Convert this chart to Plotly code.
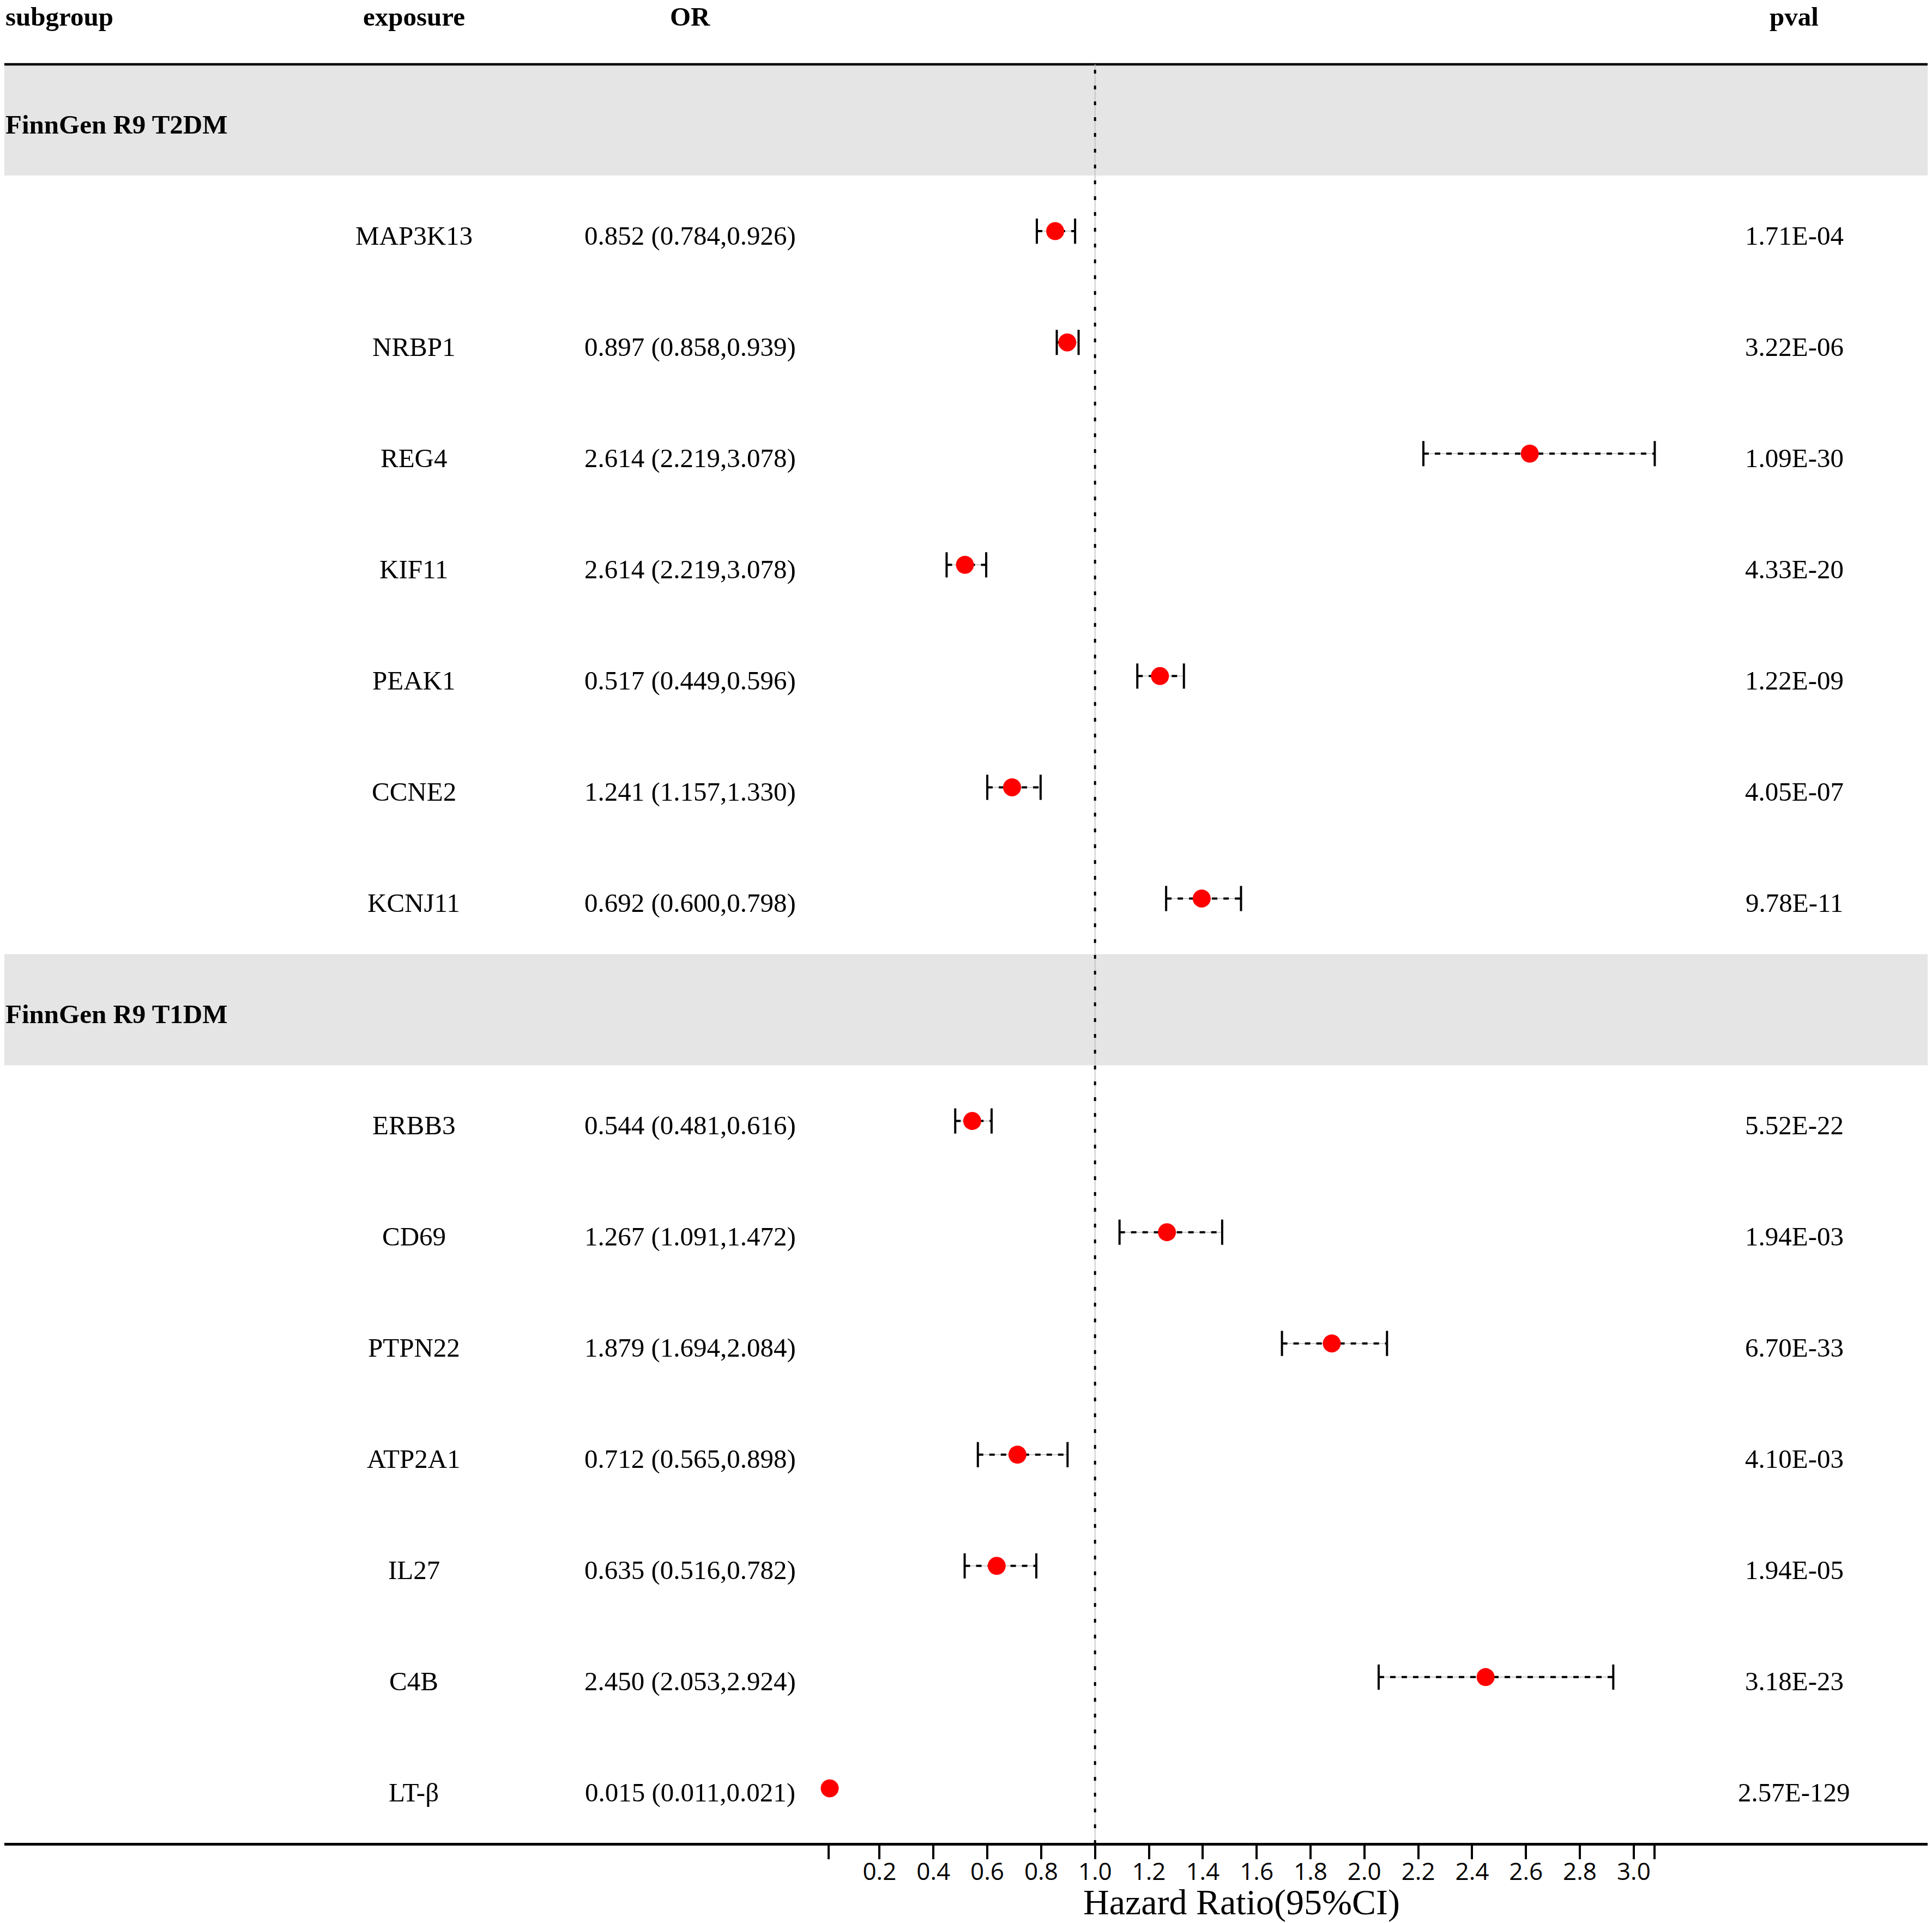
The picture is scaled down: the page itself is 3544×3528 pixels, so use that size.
import plotly.graph_objects as go

# --- data ---
groups = ["FinnGen R9 T2DM", "FinnGen R9 T1DM"]
group_of = ["FinnGen R9 T2DM"] * 7 + ["FinnGen R9 T1DM"] * 7
exposure = ["MAP3K13", "NRBP1", "REG4", "KIF11", "PEAK1", "CCNE2", "KCNJ11",
            "ERBB3", "CD69", "PTPN22", "ATP2A1", "IL27", "C4B", "LT-β"]
or_label = ["0.852 (0.784,0.926)", "0.897 (0.858,0.939)", "2.614 (2.219,3.078)",
            "2.614 (2.219,3.078)", "0.517 (0.449,0.596)", "1.241 (1.157,1.330)",
            "0.692 (0.600,0.798)", "0.544 (0.481,0.616)", "1.267 (1.091,1.472)",
            "1.879 (1.694,2.084)", "0.712 (0.565,0.898)", "0.635 (0.516,0.782)",
            "2.450 (2.053,2.924)", "0.015 (0.011,0.021)"]
pval_label = ["1.71E-04", "3.22E-06", "1.09E-30", "4.33E-20", "1.22E-09", "4.05E-07",
              "9.78E-11", "5.52E-22", "1.94E-03", "6.70E-33", "4.10E-03", "1.94E-05",
              "3.18E-23", "2.57E-129"]
# plotted estimates (as drawn in the picture)
est = [0.852, 0.897, 2.614, 0.517, 1.241, 0.692, 1.396,
       0.544, 1.267, 1.879, 0.712, 0.635, 2.450, 0.015]
lo = [0.784, 0.858, 2.219, 0.449, 1.157, 0.600, 1.264,
      0.481, 1.091, 1.694, 0.565, 0.516, 2.053, 0.011]
hi = [0.926, 0.939, 3.078, 0.596, 1.330, 0.798, 1.542,
      0.616, 1.472, 2.084, 0.898, 0.782, 2.924, 0.021]
tick_vals = [0.2, 0.4, 0.6, 0.8, 1.0, 1.2, 1.4, 1.6, 1.8, 2.0, 2.2, 2.4, 2.6, 2.8, 3.0]
headers = ["subgroup", "exposure", "OR", "pval"]
ref_value = 1.0

# --- geometry, in pixels of the 3544 x 3528 page ---
W, H = 3544, 3528
OFF = 8                      # default body margin of the html page
FW, FH = W - OFF, H - OFF    # figure size so it ends at the window edge
ROW_H = 204.06
TOP_LINE = 118
BOT_LINE = TOP_LINE + 16 * ROW_H
X_AT_02, PX_PER_UNIT = 1613.4, 494.1
x_range = [0.2 - (X_AT_02 - OFF) / PX_PER_UNIT, 0.2 + (W - X_AT_02) / PX_PER_UNIT]
n_rows = len(groups) + len(exposure)
y_range = [-(H - BOT_LINE) / ROW_H, n_rows + (TOP_LINE - OFF) / ROW_H]


def px(x):
    return (x - OFF) / FW


SERIF = "Liberation Serif"
FS = 49
MARK = 33
col_exp, col_or, col_p = px(759), px(1266), px(3291)

# build row list: group header rows followed by their items
rows = []
for g in groups:
    rows.append(("group", g, None))
    for idx, gg in enumerate(group_of):
        if gg == g:
            rows.append(("item", g, idx))

fig = go.Figure()
annotations = []
shapes = []

item_y = [None] * len(exposure)
for r, (kind, g, idx) in enumerate(rows):
    yc = n_rows - r - 0.5
    if kind == "group":
        shapes.append(dict(type="rect", xref="paper", yref="y", x0=0, x1=1,
                           y0=yc - 0.5, y1=yc + 0.5, fillcolor="#E5E5E5",
                           line=dict(width=0), layer="below"))
        annotations.append(dict(x=0, y=yc, xref="paper", yref="y", text=f"<b>{g}</b>",
                                xanchor="left", yanchor="middle", yshift=-8, showarrow=False,
                                font=dict(family=SERIF, size=FS, color="black")))
    else:
        item_y[idx] = yc
        for xc, txt in [(col_exp, exposure[idx]), (col_or, or_label[idx]), (col_p, pval_label[idx])]:
            annotations.append(dict(x=xc, y=yc, xref="paper", yref="y", text=txt,
                                    xanchor="center", yanchor="middle", yshift=-8, showarrow=False,
                                    font=dict(family=SERIF, size=FS, color="black")))

# column headers
head_y = n_rows + (TOP_LINE - 30) / ROW_H
for xc, txt, anc in [(0, headers[0], "left"), (col_exp, headers[1], "center"),
                     (col_or, headers[2], "center"), (col_p, headers[3], "center")]:
    annotations.append(dict(x=xc, y=head_y, xref="paper", yref="y", text=f"<b>{txt}</b>",
                            xanchor=anc, yanchor="middle", showarrow=False,
                            font=dict(family=SERIF, size=FS, color="black")))

# top rule
shapes.append(dict(type="line", xref="paper", yref="y", x0=0, x1=1, y0=n_rows, y1=n_rows,
                   line=dict(color="black", width=4.5)))
# reference line at 1
shapes.append(dict(type="line", xref="x", yref="y", x0=ref_value, x1=ref_value, y0=0, y1=n_rows,
                   line=dict(color="#BDBDBD", width=1.5)))
shapes.append(dict(type="line", xref="x", yref="y", x0=ref_value, x1=ref_value, y0=0, y1=n_rows,
                   line=dict(color="black", width=4, dash="7px,22px")))

# confidence intervals (skipped when hidden behind the dot)
ci_x, ci_y, cap_x, cap_y = [], [], [], []
for i in range(len(exposure)):
    if (hi[i] - lo[i]) * PX_PER_UNIT < MARK:
        continue
    ci_x += [lo[i], hi[i], None]
    ci_y += [item_y[i], item_y[i], None]
    cap_x += [lo[i], hi[i]]
    cap_y += [item_y[i], item_y[i]]

fig.add_trace(go.Scatter(x=ci_x, y=ci_y, mode="lines", hoverinfo="skip",
                         line=dict(color="#BDBDBD", width=1.5), showlegend=False))
fig.add_trace(go.Scatter(x=ci_x, y=ci_y, mode="lines", hoverinfo="skip",
                         line=dict(color="black", width=4, dash="10px,11px"), showlegend=False))
fig.add_trace(go.Scatter(x=cap_x, y=cap_y, mode="markers", hoverinfo="skip",
                         marker=dict(symbol="line-ns", size=MARK, line=dict(color="black", width=4)),
                         showlegend=False))
fig.add_trace(go.Scatter(x=est, y=item_y, mode="markers", text=exposure,
                         marker=dict(symbol="circle", size=MARK, color="#FF0000", line=dict(width=0)),
                         showlegend=False))

# axis title
annotations.append(dict(x=(min(lo) + max(hi)) / 2, y=(H - 3490) / FH, xref="x", yref="paper",
                        text="Hazard Ratio(95%CI)", xanchor="center", yanchor="middle",
                        showarrow=False, font=dict(family=SERIF, size=66, color="black")))

all_ticks = [min(lo)] + tick_vals + [max(hi)]
tick_text = [""] + [f"{v:.1f}" for v in tick_vals] + [""]

fig.update_layout(
    width=FW, height=FH,
    margin=dict(l=0, r=0, t=0, b=0),
    paper_bgcolor="white", plot_bgcolor="white",
    xaxis=dict(range=x_range, domain=[0, 1], anchor="free", position=(H - BOT_LINE) / FH,
               showgrid=False, zeroline=False, showline=True, linecolor="black", linewidth=4.5,
               ticks="outside", ticklen=25, tickwidth=4, tickcolor="black",
               tickvals=all_ticks, ticktext=tick_text, ticklabelstandoff=-15,
               tickfont=dict(family="Open Sans", size=44, color="black")),
    yaxis=dict(range=y_range, domain=[0, 1], showgrid=False, zeroline=False,
               showticklabels=False, showline=False),
    shapes=shapes,
    annotations=annotations,
)

fig.write_html("out.html")
